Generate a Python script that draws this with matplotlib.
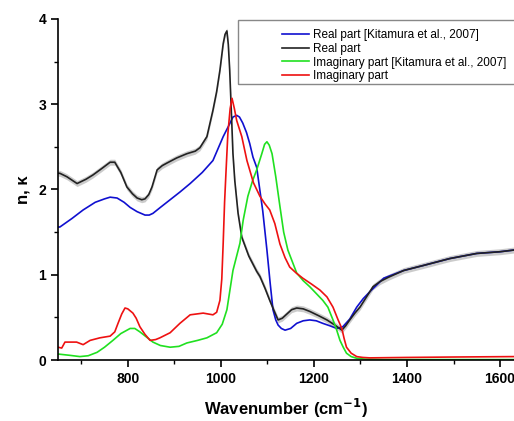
import matplotlib
matplotlib.use("Agg")
import matplotlib.pyplot as plt
from matplotlib.patches import Rectangle
from matplotlib.ticker import MultipleLocator

plt.rcParams['font.family'] = ['Liberation Sans', 'DejaVu Sans']

# Real part (this work)
real_x = [650, 654, 669, 691, 710, 725, 745, 762, 772, 785, 798, 810, 820, 830, 837, 845, 852,
          863, 874, 884, 905, 927, 945, 955, 970, 983, 991, 998, 1005, 1009, 1013, 1016, 1019,
          1023, 1026, 1030, 1037, 1045, 1060, 1077, 1084, 1095, 1105, 1115, 1123, 1132, 1142,
          1152, 1163, 1177, 1191, 1210, 1228, 1245, 1260, 1268, 1277, 1288, 1299, 1313, 1327,
          1342, 1360, 1393, 1436, 1492, 1550, 1600, 1630]
real_y = [2.19, 2.19, 2.15, 2.07, 2.12, 2.17, 2.25, 2.32, 2.32, 2.2, 2.03, 1.95, 1.9, 1.88,
          1.89, 1.94, 2.03, 2.23, 2.28, 2.31, 2.37, 2.42, 2.45, 2.49, 2.62, 2.93, 3.15, 3.4,
          3.71, 3.82, 3.86, 3.7, 3.4, 2.85, 2.42, 2.1, 1.72, 1.44, 1.22, 1.04, 0.98, 0.84, 0.7,
          0.57, 0.47, 0.49, 0.54, 0.59, 0.61, 0.6, 0.57, 0.52, 0.47, 0.41, 0.35, 0.4, 0.47,
          0.55, 0.62, 0.74, 0.86, 0.92, 0.97, 1.05, 1.11, 1.19, 1.25, 1.27, 1.29]
real_err = 0.035

# Real part [Kitamura et al., 2007]
kit_real_x = [650, 654, 680, 704, 730, 750, 762, 777, 792, 805, 820, 837, 846, 854, 870, 891,
              912, 934, 960, 983, 1005, 1018, 1026, 1034, 1040, 1047, 1055, 1062, 1069, 1077,
              1090, 1099, 1106, 1112, 1118, 1123, 1130, 1138, 1150, 1163, 1177, 1191, 1205,
              1219, 1235, 1249, 1262, 1277, 1292, 1306, 1320, 1335, 1350, 1393, 1436, 1492,
              1550, 1600, 1630]
kit_real_y = [1.56, 1.56, 1.66, 1.76, 1.85, 1.89, 1.91, 1.9, 1.85, 1.79, 1.74, 1.70, 1.70,
              1.72, 1.79, 1.88, 1.97, 2.07, 2.2, 2.34, 2.62, 2.76, 2.85, 2.87, 2.85, 2.78, 2.67,
              2.54, 2.38, 2.26, 1.75, 1.29, 0.9, 0.59, 0.47, 0.41, 0.37, 0.35, 0.37, 0.43, 0.46,
              0.47, 0.46, 0.43, 0.4, 0.37, 0.39, 0.48, 0.62, 0.72, 0.8, 0.88, 0.96, 1.05, 1.11,
              1.19, 1.25, 1.27, 1.29]

# Imaginary part (this work)
imag_x = [650, 658, 665, 690, 704, 719, 740, 762, 772, 779, 787, 794, 800, 811, 818, 826, 837,
          848, 860, 869, 891, 912, 934, 962, 983, 991, 998, 1002, 1005, 1008, 1011, 1015, 1020,
          1024, 1029, 1034, 1045, 1056, 1070, 1084, 1095, 1105, 1116, 1127, 1138, 1148, 1162,
          1176, 1195, 1213, 1228, 1241, 1252, 1260, 1265, 1270, 1280, 1292, 1305, 1320, 1400,
          1500, 1630]
imag_y = [0.15, 0.14, 0.21, 0.21, 0.18, 0.23, 0.26, 0.28, 0.33, 0.43, 0.54, 0.61, 0.6, 0.55,
          0.49, 0.39, 0.3, 0.23, 0.24, 0.26, 0.32, 0.43, 0.53, 0.55, 0.53, 0.56, 0.7, 0.95,
          1.37, 1.85, 2.2, 2.65, 2.95, 3.07, 2.95, 2.81, 2.62, 2.34, 2.08, 1.92, 1.83, 1.76,
          1.6, 1.36, 1.2, 1.09, 1.02, 0.96, 0.89, 0.82, 0.74, 0.62, 0.47, 0.37, 0.25, 0.15,
          0.08, 0.04, 0.03, 0.025, 0.03, 0.035, 0.04]

# Imaginary part [Kitamura et al., 2007]
kit_imag_x = [650, 675, 697, 715, 734, 750, 768, 785, 805, 815, 826, 840, 854, 870, 891, 910,
              927, 950, 970, 991, 1003, 1013, 1026, 1041, 1048, 1058, 1068, 1077, 1088, 1094,
              1099, 1104, 1110, 1118, 1127, 1135, 1144, 1163, 1177, 1191, 1205, 1219, 1230,
              1241, 1249, 1256, 1263, 1270, 1280, 1292, 1310, 1350, 1630]
kit_imag_y = [0.07, 0.055, 0.04, 0.05, 0.09, 0.15, 0.23, 0.31, 0.37, 0.37, 0.33, 0.27, 0.21,
              0.17, 0.15, 0.16, 0.2, 0.23, 0.26, 0.32, 0.42, 0.59, 1.05, 1.37, 1.64, 1.92, 2.1,
              2.23, 2.42, 2.53, 2.56, 2.52, 2.42, 2.15, 1.8, 1.5, 1.29, 1.02, 0.93, 0.86, 0.78,
              0.7, 0.62, 0.47, 0.35, 0.23, 0.15, 0.08, 0.04, 0.02, 0.01, 0.005, 0.005]

fig = plt.figure(figsize=(5.14, 4.21), dpi=100)
ax = fig.add_axes([58 / 514, 1 - 360 / 421, 1 - 58 / 514, (360 - 19) / 421])

lo = [v - real_err for v in real_y]
hi = [v + real_err for v in real_y]
ax.fill_between(real_x, lo, hi, color="#999999", alpha=0.5, lw=0)

ax.plot(kit_real_x, kit_real_y, color="#1010d0", lw=1.2, label="Real part [Kitamura et al., 2007]")
ax.plot(real_x, real_y, color="#222222", lw=1.2, label="Real part")
ax.plot(kit_imag_x, kit_imag_y, color="#20e020", lw=1.2, label="Imaginary part [Kitamura et al., 2007]")
ax.plot(imag_x, imag_y, color="#ee1111", lw=1.2, label="Imaginary part")

ax.set_xlim(650, 1630)
ax.set_ylim(0, 4)
ax.xaxis.set_major_locator(MultipleLocator(200))
ax.xaxis.set_minor_locator(MultipleLocator(100))
ax.yaxis.set_major_locator(MultipleLocator(1))
ax.yaxis.set_minor_locator(MultipleLocator(0.5))
ax.tick_params(which="major", direction="out", length=5, width=1.2, labelsize=10)
ax.tick_params(which="minor", direction="out", length=3, width=1.0)
for lab in ax.get_xticklabels() + ax.get_yticklabels():
    lab.set_fontweight("bold")
ax.spines["top"].set_visible(False)
ax.spines["right"].set_visible(False)
ax.spines["left"].set_linewidth(1.2)
ax.spines["bottom"].set_linewidth(1.2)

ax.set_xlabel("Wavenumber (cm$^{\\mathbf{-1}}$)", fontsize=12, fontweight="bold", labelpad=8)
ax.set_ylabel("n, \u03ba", fontsize=12, fontweight="bold", labelpad=6)

fig.patches.append(Rectangle((238 / 514, 1 - 84 / 421), 0.6, 64 / 421, transform=fig.transFigure,
                             fill=False, edgecolor="#888888", lw=1.0))
fig.legend(loc="upper left", bbox_to_anchor=(282 / 514, 1 - 29 / 421), frameon=False,
           fontsize=8.5, handlelength=2.3, handletextpad=0.3, labelspacing=0.15,
           borderaxespad=0, borderpad=0)

fig.savefig("out.png", dpi=100)
